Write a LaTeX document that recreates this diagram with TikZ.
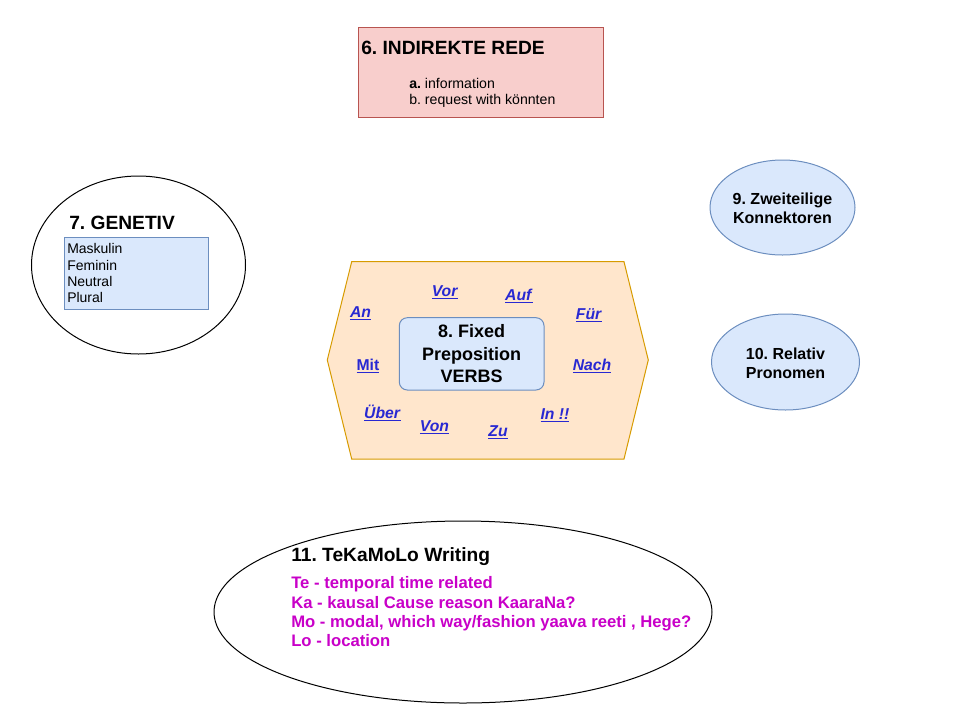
\documentclass[tikz,border=0pt]{standalone}
\usepackage{fontspec}
\setmainfont{Liberation Sans}
\usepackage{tikz}
\frenchspacing

\definecolor{redeFill}{HTML}{F8CECC}
\definecolor{redeLine}{HTML}{B85450}
\definecolor{blueFill}{HTML}{DAE8FC}
\definecolor{blueLine}{HTML}{6C8EBF}
\definecolor{prepFill}{HTML}{FFE6CC}
\definecolor{prepLine}{HTML}{D79B00}
\definecolor{linkBlue}{RGB}{40,40,210}
\definecolor{tkmlPink}{RGB}{200,0,200}

\newcommand{\preplink}[1]{\underline{\textit{#1}}}

\begin{document}
\begin{tikzpicture}[x=0.75pt,y=0.75pt,yscale=-1,xscale=1]
\useasboundingbox (0,0) rectangle (976,708);

%Shape: Rectangle
\draw [draw=redeLine,fill=redeFill,line width=0.75] (358,27) -- (603,27) -- (603,117) -- (358,117) -- cycle ;
% Text Node
\draw (360,54) node (redeHead) [anchor=base west][inner sep=0.75pt] [font=\fontsize{14.4}{17}\selectfont\bfseries] [align=left] {6. INDIREKTE REDE};
% Text Node
\draw (408,88) node (redeA) [anchor=base west][inner sep=0.75pt] [font=\fontsize{10.6}{12}\selectfont] [align=left] {\textbf{a.} information};
% Text Node
\draw (408,104.5) node (redeB) [anchor=base west][inner sep=0.75pt] [font=\fontsize{10.6}{12}\selectfont] [align=left] {b. request with könnten};

%Shape: Ellipse
\draw [line width=0.75] (138.5,265) ellipse (107 and 89) ;
%Shape: Rectangle
\draw [draw=blueLine,fill=blueFill,line width=0.75] (64,237) -- (208,237) -- (208,309) -- (64,309) -- cycle ;
% Text Node
\draw (68,229.3) node (genHead) [anchor=base west][inner sep=0.75pt] [font=\fontsize{14.4}{17}\selectfont\bfseries] [align=left] {7. GENETIV};
% Text Node
\draw (66,253.3) node (genMask) [anchor=base west][inner sep=0.75pt] [font=\fontsize{10.5}{12}\selectfont] [align=left] {Maskulin};
% Text Node
\draw (66,270) node (genFem) [anchor=base west][inner sep=0.75pt] [font=\fontsize{10.5}{12}\selectfont] [align=left] {Feminin};
% Text Node
\draw (66,286.7) node (genNeut) [anchor=base west][inner sep=0.75pt] [font=\fontsize{10.5}{12}\selectfont] [align=left] {Neutral};
% Text Node
\draw (66,302.7) node (genPlur) [anchor=base west][inner sep=0.75pt] [font=\fontsize{10.5}{12}\selectfont] [align=left] {Plural};

%Shape: Hexagon
\draw [draw=prepLine,fill=prepFill,line width=0.75] (351.7,261.7) -- (624,261.7) -- (648.3,360) -- (624,459) -- (351.7,459) -- (327.3,360) -- cycle ;
%Shape: Rounded Rect
\draw [draw=blueLine,fill=blueFill,line width=0.75,rounded corners=6pt] (399.3,317.7) rectangle (544,390) ;
% Text Node
\draw (471.7,354) node (prepCore) [inner sep=0.75pt] [font=\fontsize{13.5}{16.9}\selectfont\bfseries] [align=center] {8. Fixed\\Preposition\\VERBS};
% Link Nodes
\draw (445,296.7) node (lnkVor) [anchor=base][inner sep=0.75pt] [font=\fontsize{11.8}{14}\selectfont\bfseries,text=linkBlue] {\preplink{Vor}};
\draw (519,300) node (lnkAuf) [anchor=base][inner sep=0.75pt] [font=\fontsize{11.8}{14}\selectfont\bfseries,text=linkBlue] {\preplink{Auf}};
\draw (360.5,317.3) node (lnkAn) [anchor=base][inner sep=0.75pt] [font=\fontsize{11.8}{14}\selectfont\bfseries,text=linkBlue] {\preplink{An}};
\draw (589,319) node (lnkFur) [anchor=base][inner sep=0.75pt] [font=\fontsize{11.8}{14}\selectfont\bfseries,text=linkBlue] {\preplink{Für}};
\draw (368,370) node (lnkMit) [anchor=base][inner sep=0.75pt] [font=\fontsize{11.8}{14}\selectfont\bfseries,text=linkBlue] {\underline{Mit}};
\draw (592,370) node (lnkNach) [anchor=base][inner sep=0.75pt] [font=\fontsize{11.8}{14}\selectfont\bfseries,text=linkBlue] {\preplink{Nach}};
\draw (382.5,418.3) node (lnkUber) [anchor=base][inner sep=0.75pt] [font=\fontsize{11.8}{14}\selectfont\bfseries,text=linkBlue] {\preplink{Über}};
\draw (434.5,431.7) node (lnkVon) [anchor=base][inner sep=0.75pt] [font=\fontsize{11.8}{14}\selectfont\bfseries,text=linkBlue] {\preplink{Von}};
\draw (498,436.7) node (lnkZu) [anchor=base][inner sep=0.75pt] [font=\fontsize{11.8}{14}\selectfont\bfseries,text=linkBlue] {\preplink{Zu}};
\draw (555,419) node (lnkIn) [anchor=base][inner sep=0.75pt] [font=\fontsize{11.8}{14}\selectfont\bfseries,text=linkBlue] {\preplink{In !!}};

%Shape: Ellipse
\draw [draw=blueLine,fill=blueFill,line width=0.75] (782.5,207.5) ellipse (72.5 and 47.5) ;
% Text Node
\draw (782.5,208.5) node (zweiKon) [inner sep=0.75pt] [font=\fontsize{12}{14.3}\selectfont\bfseries] [align=center] {9. Zweiteilige\\Konnektoren};
%Shape: Ellipse
\draw [draw=blueLine,fill=blueFill,line width=0.75] (785.5,362) ellipse (74 and 48) ;
% Text Node
\draw (785.5,363) node (relPron) [inner sep=0.75pt] [font=\fontsize{12}{14.3}\selectfont\bfseries] [align=center] {10. Relativ\\Pronomen};

%Shape: Ellipse
\draw [line width=0.75] (463,612) ellipse (249 and 91) ;
% Text Node
\draw (290,561.7) node (tkmlHead) [anchor=base west][inner sep=0.75pt] [font=\fontsize{14.4}{17}\selectfont\bfseries] [align=left] {11. TeKaMoLo Writing};
% Text Node
\draw (290,588.3) node (tkmlTe) [anchor=base west][inner sep=0.75pt] [font=\fontsize{12.5}{14}\selectfont\bfseries,text=tkmlPink] [align=left] {Te - temporal time related};
% Text Node
\draw (290,608.3) node (tkmlKa) [anchor=base west][inner sep=0.75pt] [font=\fontsize{12.5}{14}\selectfont\bfseries,text=tkmlPink] [align=left] {Ka - kausal Cause reason KaaraNa?};
% Text Node
\draw (290,627.3) node (tkmlMo) [anchor=base west][inner sep=0.75pt] [font=\fontsize{12.5}{14}\selectfont\bfseries,text=tkmlPink] [align=left] {Mo - modal, which way/fashion yaava reeti , Hege?};
% Text Node
\draw (290,646.7) node (tkmlLo) [anchor=base west][inner sep=0.75pt] [font=\fontsize{12.5}{14}\selectfont\bfseries,text=tkmlPink] [align=left] {Lo - location};

\end{tikzpicture}
\end{document}
